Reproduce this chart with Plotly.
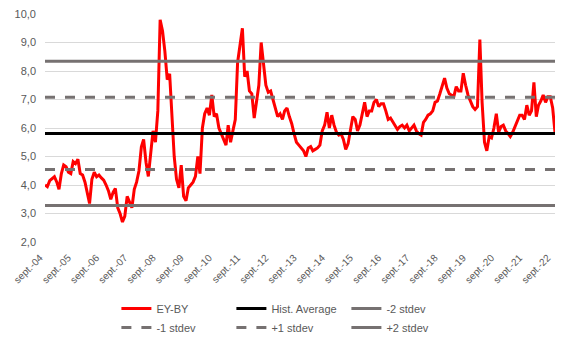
import pandas as pd
import plotly.graph_objects as go

# Monthly EY-BY values, Sep 2004 .. Oct 2022
ey_by = [
    4.00, 3.94, 4.15, 4.23, 4.29, 4.10, 3.85, 4.40, 4.70, 4.64,
    4.45, 4.40, 4.82, 4.75, 4.90, 4.40, 4.35, 4.10, 3.75, 3.35,
    4.20, 4.45, 4.29, 4.35, 4.25, 4.17, 4.00, 3.80, 3.50, 3.75,
    3.88, 3.20, 3.00, 2.70, 2.90, 3.60, 3.40, 3.20, 3.85, 4.10,
    4.50, 5.34, 5.60, 4.80, 4.30, 5.00, 5.90, 5.50, 6.60, 9.80,
    9.40, 8.70, 7.70, 7.90, 6.50, 5.00, 4.20, 3.90, 4.70, 3.60,
    3.45, 3.90, 4.00, 4.10, 4.30, 5.00, 4.40, 6.00, 6.50, 6.70,
    6.45, 7.16, 6.40, 6.50, 6.00, 5.80, 5.60, 5.40, 6.10, 5.50,
    5.90, 6.30, 8.30, 9.00, 9.50, 7.80, 8.00, 7.30, 7.20, 6.35,
    7.00, 7.50, 9.00, 8.20, 7.50, 7.25, 7.30, 7.00, 6.70, 6.40,
    6.50, 6.30, 6.60, 6.70, 6.40, 6.15, 5.80, 5.50, 5.40, 5.30,
    5.20, 5.00, 5.30, 5.35, 5.20, 5.25, 5.30, 5.40, 5.90, 6.10,
    6.55, 6.00, 6.45, 6.10, 5.85, 5.75, 5.80, 5.60, 5.25, 5.45,
    5.90, 6.40, 6.30, 5.90, 6.10, 6.50, 6.90, 6.40, 6.60, 6.60,
    6.90, 7.00, 6.75, 6.85, 6.85, 6.60, 6.30, 6.35, 6.20, 6.10,
    5.95, 6.05, 6.10, 6.00, 6.10, 5.90, 6.00, 6.10, 5.90, 5.80,
    5.75, 6.20, 6.30, 6.45, 6.50, 6.60, 6.90, 6.95, 7.20, 7.50,
    7.75, 7.40, 7.20, 7.15, 7.10, 7.45, 7.30, 7.30, 7.92, 7.50,
    7.15, 6.95, 6.75, 6.65, 6.75, 9.10, 6.90, 5.50, 5.20, 5.70,
    5.65, 6.00, 6.50, 5.85, 6.05, 6.10, 5.90, 5.80, 5.70, 5.85,
    6.05, 6.30, 6.45, 6.45, 6.30, 6.80, 6.45, 6.60, 7.60, 6.40,
    6.80, 6.95, 7.16, 6.90, 7.10, 7.10, 6.70, 5.85,
]
start_month = "2004-09-01"

hist_average = 5.81
stdev = 1.265

tick_labels = ["sept.-04", "sept.-05", "sept.-06", "sept.-07", "sept.-08",
               "sept.-09", "sept.-10", "sept.-11", "sept.-12", "sept.-13",
               "sept.-14", "sept.-15", "sept.-16", "sept.-17", "sept.-18",
               "sept.-19", "sept.-20", "sept.-21", "sept.-22"]
y_ticks = [2, 3, 4, 5, 6, 7, 8, 9, 10]

dates = pd.date_range(start_month, periods=len(ey_by), freq="MS")
tick_dates = pd.date_range(start_month, periods=len(tick_labels), freq="12MS")
x_ends = [dates[0], dates[-1]]

GREY = "#767171"
TXT = "#595959"
DASH = "10px,10px"

fig = go.Figure()
fig.add_trace(go.Scatter(x=dates, y=ey_by, mode="lines", name="EY-BY", legendgroup="c1",
                         line=dict(color="#ff0000", width=3)))
fig.add_trace(go.Scatter(x=x_ends, y=[hist_average] * 2, mode="lines", name="Hist. Average",
                         legendgroup="c2", line=dict(color="#000000", width=3)))
fig.add_trace(go.Scatter(x=x_ends, y=[hist_average - 2 * stdev] * 2, mode="lines", name="-2 stdev",
                         legendgroup="c3", line=dict(color=GREY, width=3)))
fig.add_trace(go.Scatter(x=x_ends, y=[hist_average - stdev] * 2, mode="lines", name="-1 stdev",
                         legendgroup="c1", line=dict(color=GREY, width=3, dash=DASH)))
fig.add_trace(go.Scatter(x=x_ends, y=[hist_average + stdev] * 2, mode="lines", name="+1 stdev",
                         legendgroup="c2", line=dict(color=GREY, width=3, dash=DASH)))
fig.add_trace(go.Scatter(x=x_ends, y=[hist_average + 2 * stdev] * 2, mode="lines", name="+2 stdev",
                         legendgroup="c3", line=dict(color=GREY, width=3)))

fig.update_layout(
    width=578, height=347,
    margin=dict(l=45, r=23, t=14, b=105, autoexpand=False),
    paper_bgcolor="white", plot_bgcolor="white",
    separators=", ",
    font=dict(family="Arial, Liberation Sans", size=11, color=TXT),
    xaxis=dict(type="date", range=[dates[0], dates[-1]],
               tickvals=tick_dates, ticktext=tick_labels, tickangle=-45,
               showgrid=False, zeroline=False, showline=False,
               tickfont=dict(size=10, color=TXT), ticklabelstandoff=7, ticklabelshift=-5),
    yaxis=dict(range=[2, 10], tickvals=y_ticks, tickformat=".1f",
               showgrid=True, gridcolor="#d9d9d9", gridwidth=1, zeroline=False,
               tickfont=dict(size=11, color=TXT), ticklabelstandoff=8),
    legend=dict(orientation="h", traceorder="grouped", xanchor="left", yanchor="top",
                x=0.14, y=-0.228, tracegroupgap=0,
                font=dict(family="Arial, Liberation Sans", size=11, color=TXT),
                entrywidth=70, entrywidthmode="pixels", bgcolor="rgba(0,0,0,0)",
                itemclick=False, itemdoubleclick=False),
    showlegend=True,
)

fig.write_html("out.html")
